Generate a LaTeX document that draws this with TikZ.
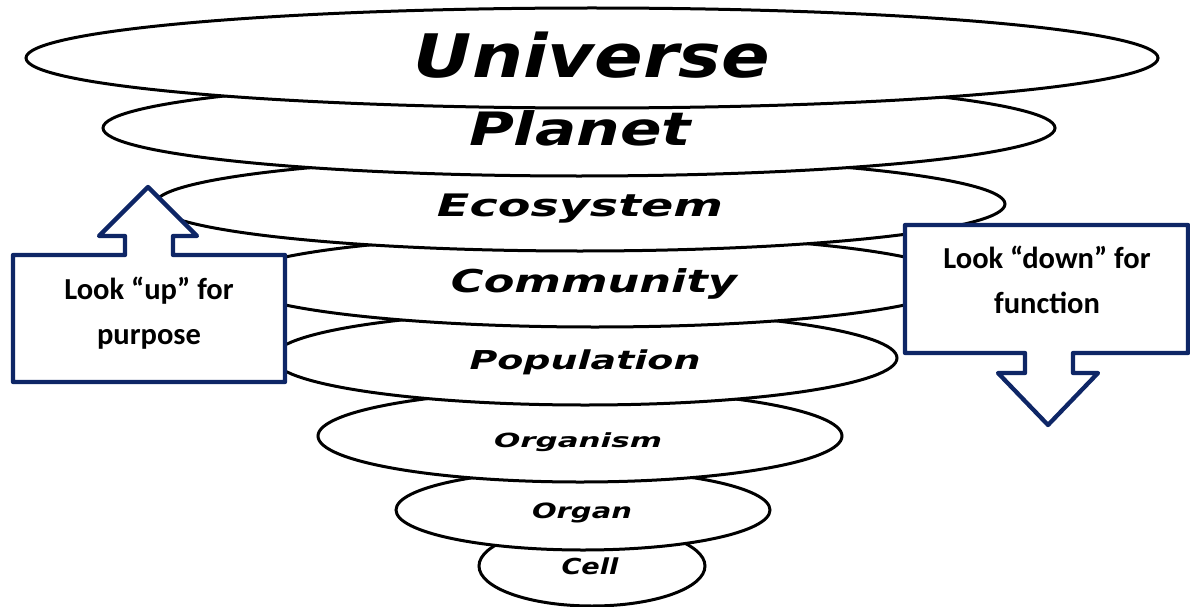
\documentclass[tikz,border=0pt]{standalone}
\usepackage{fontspec}
\usepackage{graphicx}
\usetikzlibrary{shapes.geometric}
\newfontfamily\lvlfont{DejaVu Sans}
\newfontfamily\callfont{Carlito}
\definecolor{navy}{RGB}{14,38,102}
\newcommand\lvltext[3]{\resizebox{#2pt}{\height}{\lvlfont\bfseries\itshape\fontsize{#1pt}{#1pt}\selectfont #3}}
\tikzset{
  lvl/.style={ellipse, draw=black, fill=white, line width=3pt, inner sep=0pt},
  lab/.style={anchor=base, inner sep=0pt, text=black},
  callout/.style={draw=navy, fill=white, line width=4.3pt, line join=round},
  calltext/.style={align=center, inner sep=0pt, font=\callfont\bfseries\fontsize{30.5pt}{45pt}\selectfont}
}
\begin{document}
\begin{tikzpicture}[x=1pt, y=-1pt]
\useasboundingbox (0,0) rectangle (1190,607);
% levels, drawn from the bottom up
\node[lvl, minimum width=226pt, minimum height=80pt] (cell) at (592,566) {};
\node[lab] (tcell) at (590,574) {\lvltext{22}{57}{Cell}};
\node[lvl, minimum width=374pt, minimum height=80pt] (organ) at (583,510) {};
\node[lab] (torgan) at (582,518) {\lvltext{21}{100}{Organ}};
\node[lvl, minimum width=524pt, minimum height=92pt] (organism) at (580,436) {};
\node[lab] (torganism) at (578,447) {\lvltext{19.5}{168}{Organism}};
\node[lvl, minimum width=624pt, minimum height=94pt] (population) at (585,358) {};
\node[lab] (tpopulation) at (585,369) {\lvltext{26}{231}{Population}};
\node[lvl, minimum width=726pt, minimum height=92pt] (community) at (595,281) {};
\node[lab] (tcommunity) at (594,292) {\lvltext{31.5}{286}{Community}};
\node[lvl, minimum width=850pt, minimum height=94pt] (ecosystem) at (580,204) {};
\node[lab] (tecosystem) at (580,216) {\lvltext{31}{286}{Ecosystem}};
\node[lvl, minimum width=952pt, minimum height=96pt] (planet) at (579,128) {};
\node[lab] (tplanet) at (580,146) {\lvltext{46}{222}{Planet}};
\node[lvl, minimum width=1132pt, minimum height=100pt] (universe) at (592,58) {};
\node[lab] (tuniverse) at (592,78) {\lvltext{60}{356}{Universe}};
% left callout: look up
\draw[callout] (13,382) -- (13,255) -- (125,255) -- (125,236) -- (99,236) -- (148,187)
  -- (197,236) -- (173,236) -- (173,255) -- (285,255) -- (285,382) -- cycle;
\node[calltext] (up) at (149,313) {Look “up” for\\purpose};
% right callout: look down
\draw[callout] (905,225) -- (1188,225) -- (1188,353) -- (1073,353) -- (1073,373) -- (1098,373)
  -- (1048,425) -- (998,373) -- (1025,373) -- (1025,353) -- (905,353) -- cycle;
\node[calltext] (down) at (1047,280) {Look “down” for\\function};
\end{tikzpicture}
\end{document}
